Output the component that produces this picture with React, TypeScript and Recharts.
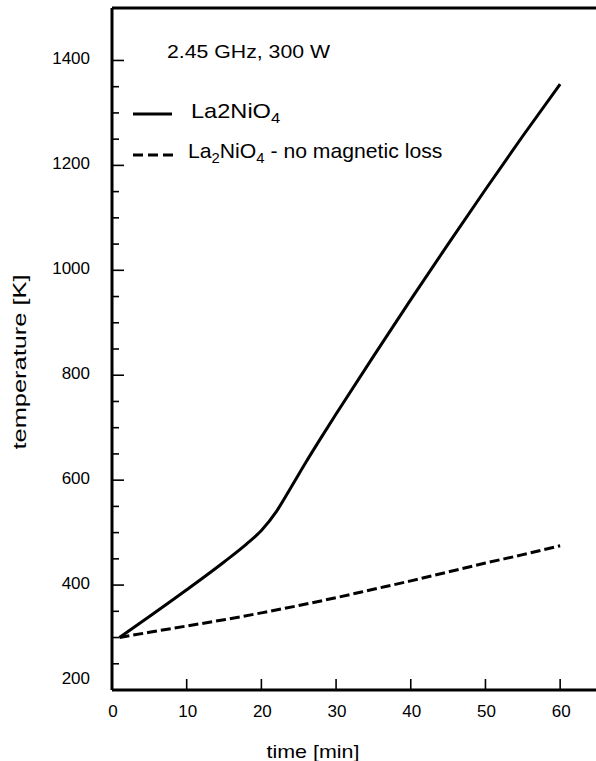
import React from "react";
import { LineChart, Line, XAxis, YAxis, ReferenceLine } from "recharts";

const timeSolid = [1, 5, 10, 15, 18, 20, 22, 24, 26, 28, 30, 35, 40, 45, 50, 55, 60];
const la2nio4 = [300, 340, 391, 444, 478, 504, 540, 587, 635, 681, 726, 836, 944, 1050, 1154, 1256, 1355];
const timeDashed = [1, 5, 10, 15, 20, 25, 30, 35, 40, 45, 50, 55, 60];
const noMagLoss = [300, 310, 322, 334, 347, 361, 376, 392, 408, 425, 442, 458, 475];
const xTicks = [0, 10, 20, 30, 40, 50, 60];
const yTicks = [200, 250, 300, 350, 400, 450, 500, 550, 600, 650, 700, 750, 800, 850, 900, 950, 1000, 1050, 1100, 1150, 1200, 1250, 1300, 1350, 1400];

const solidData = timeSolid.map((t, i) => ({ t, v: la2nio4[i] }));
const dashedData = timeDashed.map((t, i) => ({ t, v: noMagLoss[i] }));

const FONT = "'Liberation Sans', Arial, Helvetica, sans-serif";

const YTick = (props: any) => {
  const { x, y, payload } = props;
  const v = payload.value;
  const major = v % 200 === 0;
  return (
    <g>
      <line x1={x} x2={x + (major ? 12 : 7)} y1={y} y2={y} stroke="#000" strokeWidth={1.6} />
      {major && (
        <text x={90} y={v === 200 ? y - 6 : y + 4} textAnchor="end" fontSize={17} fontFamily={FONT} fill="#000">
          {v}
        </text>
      )}
    </g>
  );
};

const XTick = (props: any) => {
  const { x, y, payload } = props;
  return (
    <g>
      <line x1={x} x2={x} y1={y} y2={y - 11} stroke="#000" strokeWidth={1.6} />
      <text x={x + 1} y={y + 27} textAnchor="middle" fontSize={17} fontFamily={FONT} fill="#000">
        {payload.value}
      </text>
    </g>
  );
};

export default function App() {
  return (
    <div style={{ position: "absolute", left: 0, top: 0, width: 596, height: 761, background: "#fff" }}>
      <LineChart width={596} height={761} margin={{ top: 8, right: 0, bottom: 41, left: 0 }}>
        <XAxis
          dataKey="t"
          type="number"
          domain={[0, 64.8]}
          ticks={xTicks}
          interval={0}
          height={30}
          tickSize={0}
          tickMargin={0}
          axisLine={{ stroke: "#000", strokeWidth: 3 }}
          tickLine={false}
          tick={(p: any) => <XTick {...p} />}
          allowDataOverflow
        />
        <YAxis
          type="number"
          domain={[200, 1500]}
          ticks={yTicks}
          interval={0}
          width={112}
          tickSize={0}
          tickMargin={0}
          axisLine={{ stroke: "#000", strokeWidth: 3 }}
          tickLine={false}
          tick={(p: any) => <YTick {...p} />}
          allowDataOverflow
        />
        <ReferenceLine y={1500} stroke="#000" strokeWidth={3} />
        <Line data={solidData} type="monotone" dataKey="v" stroke="#000" strokeWidth={3} dot={false} isAnimationActive={false} />
        <Line data={dashedData} type="monotone" dataKey="v" stroke="#000" strokeWidth={3} strokeDasharray="10 4" dot={false} isAnimationActive={false} />
      </LineChart>
      <svg width={596} height={761} style={{ position: "absolute", left: 0, top: 0, pointerEvents: "none" }}>
        <g fontFamily={FONT} fill="#000">
          <text x={167} y={58} fontSize={19} textLength={163} lengthAdjust="spacingAndGlyphs">2.45 GHz, 300 W</text>
          <line x1={133} x2={172} y1={114} y2={114} stroke="#000" strokeWidth={3} />
          <text x={0} y={0} fontSize={20} transform="translate(191,118) scale(1.18,1)">
            La2NiO<tspan fontSize={14} dy={5}>4</tspan>
          </text>
          <line x1={133} x2={173} y1={155} y2={155} stroke="#000" strokeWidth={3} strokeDasharray="10 5" />
          <text x={0} y={0} fontSize={20} transform="translate(188,158) scale(1.06,1)">
            La<tspan fontSize={14} dy={5}>2</tspan>
            <tspan dy={-5}>NiO</tspan>
            <tspan fontSize={14} dy={5}>4</tspan>
            <tspan dy={-5}> - no magnetic loss</tspan>
          </text>
          <text x={313} y={758} fontSize={19} textAnchor="middle" textLength={93} lengthAdjust="spacingAndGlyphs">time [min]</text>
          <text x={0} y={0} fontSize={19} textAnchor="middle" textLength={175} lengthAdjust="spacingAndGlyphs" transform="translate(26,362) rotate(-90)">temperature [K]</text>
        </g>
      </svg>
    </div>
  );
}
